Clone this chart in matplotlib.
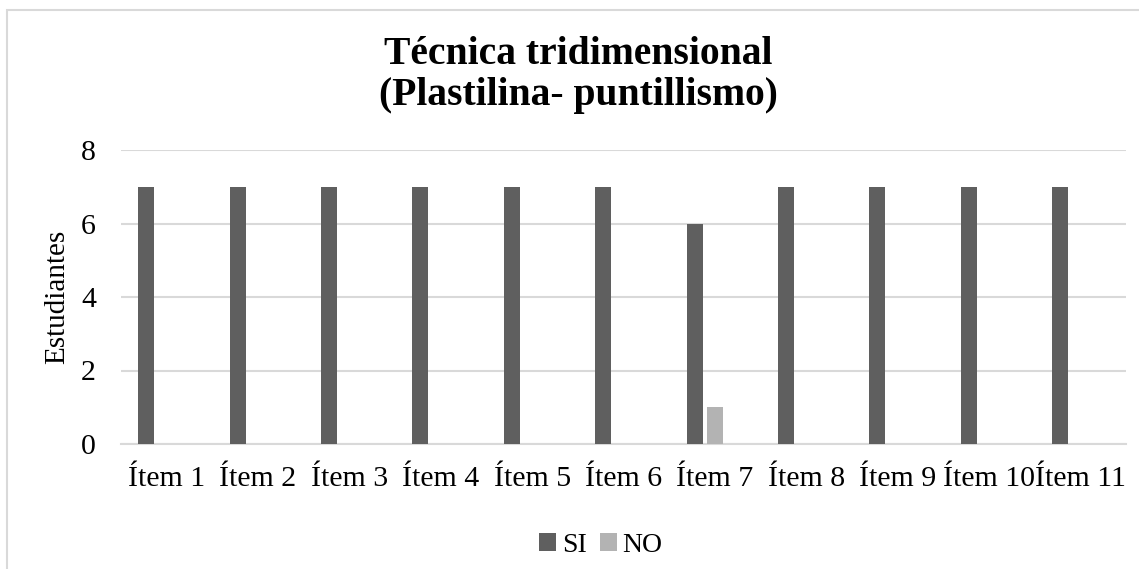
import numpy as np
import matplotlib.pyplot as plt
from matplotlib.patches import Rectangle

plt.rcParams['font.family'] = ['Liberation Serif', 'DejaVu Serif']

# data
items = ['Ítem 1', 'Ítem 2', 'Ítem 3', 'Ítem 4', 'Ítem 5', 'Ítem 6',
         'Ítem 7', 'Ítem 8', 'Ítem 9', 'Ítem 10', 'Ítem 11']
si = [7, 7, 7, 7, 7, 7, 6, 7, 7, 7, 7]
no = [0, 0, 0, 0, 0, 0, 1, 0, 0, 0, 0]

W, H = 1139, 569
fig = plt.figure(figsize=(W / 100, H / 100), dpi=100)

# outer chart border
fig.patches.append(Rectangle((7 / W, -0.05), 1.2, 1 - 10 / H + 0.05,
                             transform=fig.transFigure, fill=False,
                             edgecolor='#d9d9d9', linewidth=1.5))

ax = fig.add_axes([121 / W, 1 - 444 / H, (1126 - 121) / W, (444 - 150) / H])

x = np.arange(len(items))
bw = 0.175
ax.bar(x - 0.222, si, width=bw, color='#5f5f5f', label='SI', zorder=3)
ax.bar(x, no, width=bw, color='#b3b3b3', label='NO', zorder=3)

ax.set_xlim(-0.5, len(items) - 0.5)
ax.set_ylim(0, 8)
ax.set_yticks([0, 2, 4, 6, 8])
ax.set_xticks(x)
ax.set_xticklabels(items)
ax.tick_params(axis='both', length=0, labelsize=21.5, colors='black')
ax.tick_params(axis='y', pad=18)
ax.tick_params(axis='x', pad=16)
ax.grid(axis='y', color='#d9d9d9', linewidth=1.5, zorder=0)
for s in ['top', 'right', 'left']:
    ax.spines[s].set_visible(False)
ax.spines['bottom'].set_color('#d9d9d9')
ax.spines['bottom'].set_linewidth(1.5)

ax.set_ylabel('Estudiantes', fontsize=21, labelpad=8)

fig.text(578 / W, 1 - 75 / H, 'Técnica tridimensional\n(Plastilina- puntillismo)',
         ha='center', va='center', fontsize=28.5, fontweight='bold',
         linespacing=1.15)

fig.legend(loc='center', bbox_to_anchor=(601 / W, 1 - 545 / H), ncol=2,
           frameon=False, fontsize=20, handlelength=0.6, handleheight=0.6,
           handletextpad=0.2, columnspacing=0.5)

fig.savefig('out.png', dpi=100)
